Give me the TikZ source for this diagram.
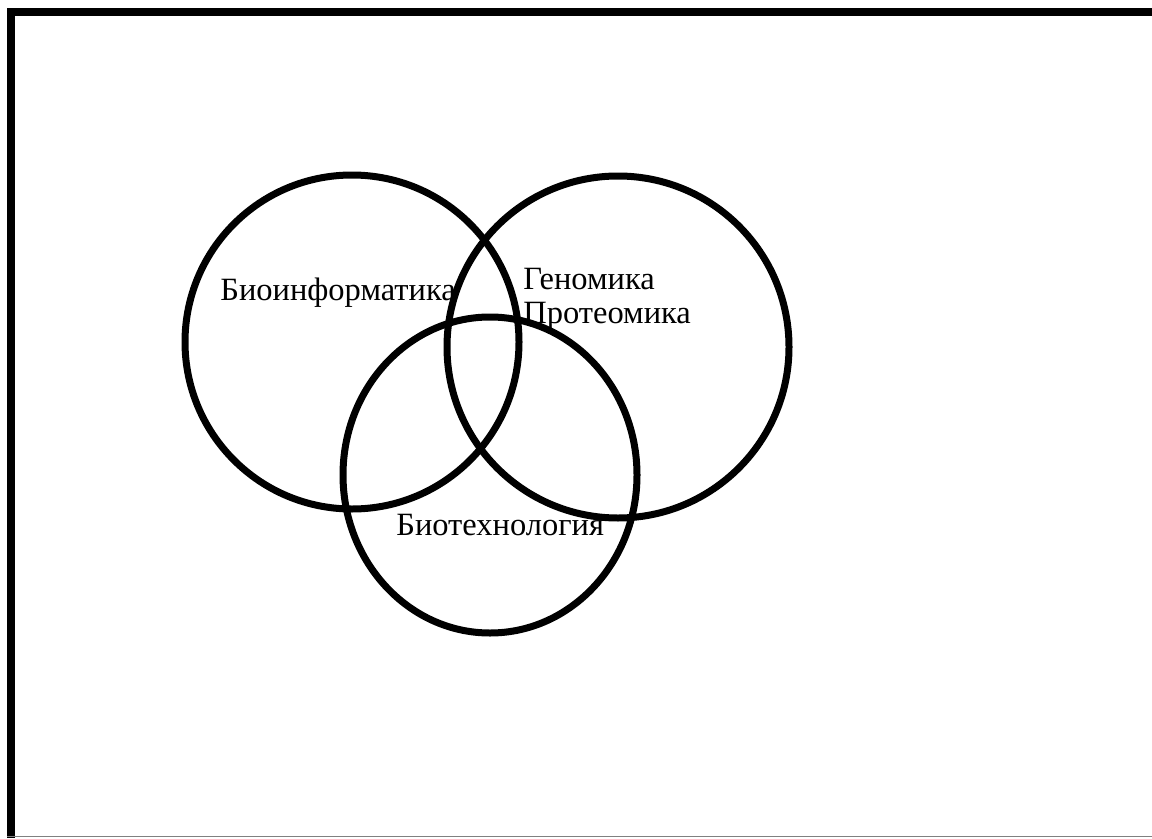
\documentclass[tikz,border=0pt]{standalone}
\usepackage{fontspec}
\setmainfont{Liberation Serif}
\begin{document}
\begin{tikzpicture}[x=0.02cm, y=-0.02cm, every node/.style={inner sep=0pt, anchor=base west, font=\fontsize{18.5}{22}\selectfont}, ring/.style={line width=0.14cm}]
	% 1. рамка
	\useasboundingbox (0,0) rectangle (1152,838);
	\fill[white] (0,0) rectangle (1152,838);
	\fill[black] (7,8) rectangle (15,838);
	\fill[black] (7,8) rectangle (1152,16);
	\draw[gray, line width=0.03cm] (7,836.5) -- (1152,836.5);
	
	% 2. круги
	\draw[ring] (352,342) circle[radius=167];
	\draw[ring] (618,347) circle[radius=171];
	\draw[ring] (490,475) ellipse[x radius=147, y radius=158];
	
	% 3. подписи
	\node (bioinf) at (220,300) {Биоинформатика};
	\node (genom) at (523,289) {Геномика};
	\node (proteom) at (523,323) {Протеомика};
	\node (biotech) at (396,535) {Биотехнология};
\end{tikzpicture}
\end{document}
